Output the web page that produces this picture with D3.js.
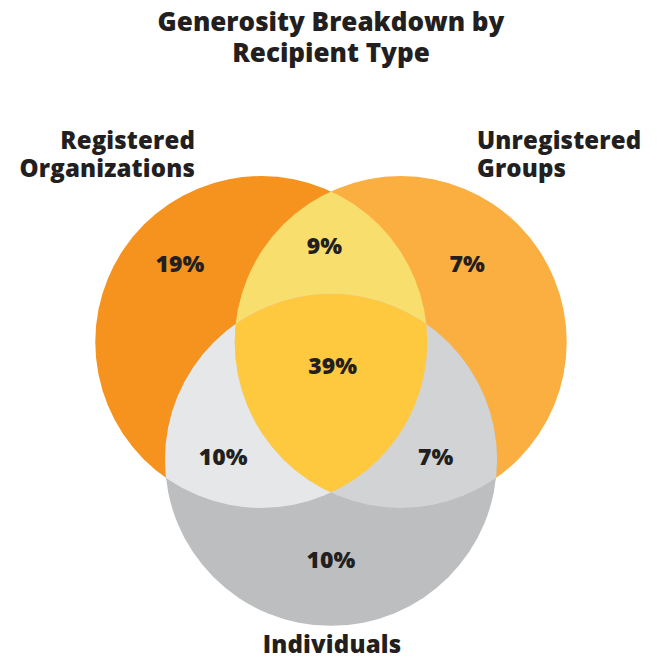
<!DOCTYPE html>
<html>
<head>
<meta charset="utf-8">
<script src="https://cdn.jsdelivr.net/npm/d3@7"></script>
<style>
  html, body { margin: 0; padding: 0; background: #fff; }
  svg { display: block; }
  text { font-family: "Open Sans", Inter, sans-serif; fill: #231F20; }
</style>
</head>
<body>
<svg id="chart" width="657" height="660"></svg>
<script>
// ---- Data ----
const titleLines = ["Generosity Breakdown by", "Recipient Type"];
const sets = ["Registered Organizations", "Unregistered Groups", "Individuals"];
const setLabelLines = [["Registered", "Organizations"], ["Unregistered", "Groups"], ["Individuals"]];
// Regions as lists of set indices, with the share of respondents in each.
const regionSets = [[0], [1], [2], [0, 1], [0, 2], [1, 2], [0, 1, 2]];
const regionShares = [19, 7, 10, 9, 10, 7, 39];
const regionColors = ["#F6921E", "#FBAF40", "#BCBEC0", "#F8DE6D", "#E6E7E8", "#D1D3D4", "#FEC83F"];

// ---- Layout (unit space: circle radius = 1) ----
const circleCenters = [[-0.42, 0], [0.42, 0], [0, 0.71]];
const labelOffsets = [[-0.91, -0.47], [0.82, -0.47], [0, 1.31], [-0.04, -0.58], [-0.65, 0.69], [0.63, 0.69], [0.01, 0.14]];
const radiusPx = 166;
const origin = [331, 342];

const x = d3.scaleLinear().domain([-1, 1]).range([origin[0] - radiusPx, origin[0] + radiusPx]);
const y = d3.scaleLinear().domain([-1, 1]).range([origin[1] - radiusPx, origin[1] + radiusPx]);
const r = x(1) - x(0);

const svg = d3.select("#chart");
const defs = svg.append("defs");

defs.selectAll("clipPath")
  .data(circleCenters)
  .join("clipPath")
  .attr("id", (d, i) => "clip-set-" + i)
  .append("circle")
  .attr("cx", d => x(d[0]))
  .attr("cy", d => y(d[1]))
  .attr("r", r);

// Regions drawn from single sets up to the triple overlap; each one is the
// last circle of its set list clipped by every other circle in that list.
const regionsG = svg.append("g");
regionSets.forEach((setList, i) => {
  let g = regionsG;
  setList.slice(0, -1).forEach(s => {
    g = g.append("g").attr("clip-path", `url(#clip-set-${s})`);
  });
  const last = circleCenters[setList[setList.length - 1]];
  g.append("circle")
    .attr("cx", x(last[0]))
    .attr("cy", y(last[1]))
    .attr("r", r)
    .attr("fill", regionColors[i]);
});

// Region values
svg.append("g")
  .selectAll("text")
  .data(regionShares)
  .join("text")
  .attr("x", (d, i) => x(labelOffsets[i][0]))
  .attr("y", (d, i) => y(labelOffsets[i][1]))
  .attr("dy", "0.36em")
  .attr("text-anchor", "middle")
  .attr("font-size", 23)
  .attr("font-weight", 800)
  .text(d => d + "%");

// Title, one text per line
svg.append("g")
  .selectAll("text")
  .data(titleLines)
  .join("text")
  .attr("x", 331)
  .attr("y", (d, i) => 31 + i * 31)
  .attr("text-anchor", "middle")
  .attr("font-size", 26)
  .attr("font-weight", 800)
  .text(d => d);

// Set names
const setLabelPos = [
  { x: 195, y: 149, anchor: "end" },
  { x: 477, y: 149, anchor: "start" },
  { x: 332, y: 653, anchor: "middle" }
];
svg.append("g")
  .selectAll("text")
  .data(sets)
  .join("text")
  .attr("text-anchor", (d, i) => setLabelPos[i].anchor)
  .attr("font-size", 24)
  .attr("font-weight", 800)
  .attr("letter-spacing", 0.15)
  .each(function (d, i) {
    d3.select(this).selectAll("tspan")
      .data(setLabelLines[i])
      .join("tspan")
      .attr("x", setLabelPos[i].x)
      .attr("y", (t, j) => setLabelPos[i].y + j * 28)
      .text(t => t);
  });
</script>
</body>
</html>
